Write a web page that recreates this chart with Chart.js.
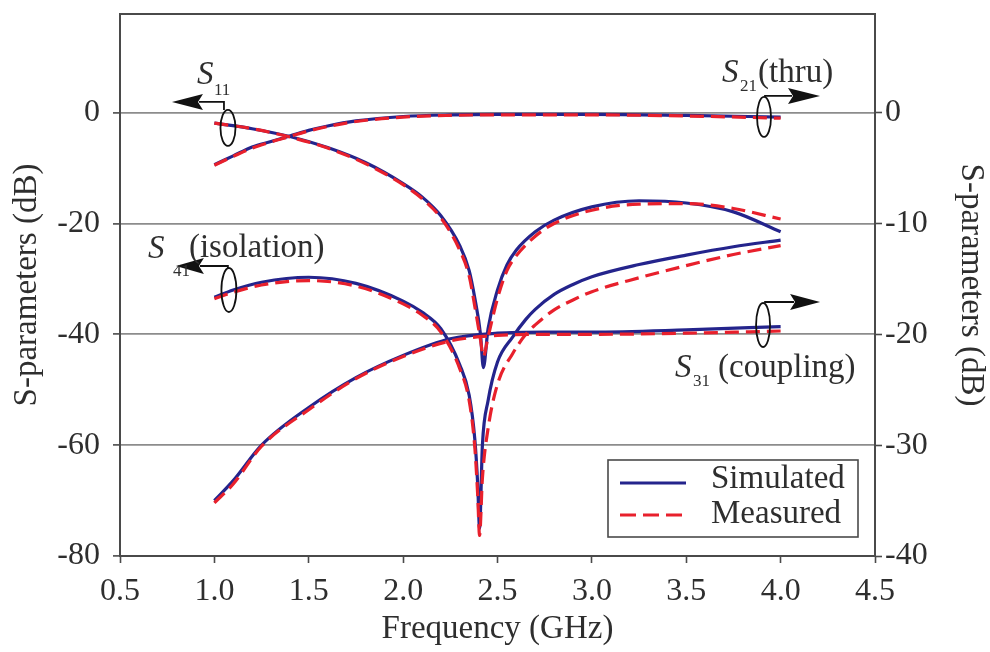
<!DOCTYPE html>
<html>
<head>
<meta charset="utf-8">
<script src="https://cdn.jsdelivr.net/npm/chart.js@4/dist/chart.umd.min.js"></script>
<style>
  html, body { margin: 0; padding: 0; background: #ffffff; }
  #wrap { width: 990px; height: 652px; }
</style>
</head>
<body>
<div id="wrap"><canvas id="c" width="990" height="652"></canvas></div>
<script>
// ---- Axis ticks ----
const xTicks = [0.5, 1.0, 1.5, 2.0, 2.5, 3.0, 3.5, 4.0, 4.5];
const xTickLabels = ['0.5', '1.0', '1.5', '2.0', '2.5', '3.0', '3.5', '4.0', '4.5'];
const leftTicks = [0, -20, -40, -60, -80];
const rightTicks = [0, -10, -20, -30, -40];

// ---- S11 (left axis, dB) ----
const fS11 = [1.0, 1.2, 1.4, 1.6, 1.8, 2.0, 2.1, 2.2, 2.3, 2.35, 2.38, 2.41, 2.425, 2.45, 2.5, 2.55, 2.6, 2.7, 2.8, 3.0, 3.25, 3.5, 3.75, 4.0];
const s11Sim  = [-1.9, -2.9, -4.3, -6.3, -9.0, -12.8, -15.2, -18.6, -24.0, -28.5, -33.5, -40.0, -46.0, -39.0, -32.0, -27.5, -24.8, -21.5, -19.4, -17.0, -15.9, -16.3, -17.9, -21.5];
const s11Meas = [-1.9, -2.9, -4.4, -6.4, -9.2, -13.0, -15.5, -19.0, -24.8, -29.5, -35.0, -41.0, -44.0, -40.5, -33.5, -28.5, -25.8, -22.3, -20.0, -17.6, -16.5, -16.4, -17.3, -19.2];

// ---- S41 isolation (left axis, dB) ----
const fS41 = [1.0, 1.1, 1.25, 1.5, 1.75, 2.0, 2.1, 2.2, 2.3, 2.35, 2.38, 2.395, 2.405, 2.42, 2.45, 2.5, 2.58, 2.65, 2.7, 2.8, 2.9, 3.0, 3.25, 3.5, 3.75, 4.0];
const s41Sim  = [-33.3, -32.0, -30.6, -29.7, -30.8, -34.0, -36.0, -39.0, -45.5, -51.0, -59.0, -67.0, -75.0, -60.0, -52.0, -45.0, -40.5, -37.3, -35.5, -32.8, -31.0, -29.6, -27.4, -25.7, -24.2, -23.0];
const s41Meas = [-33.6, -32.4, -31.1, -30.3, -31.3, -34.5, -36.5, -39.6, -46.2, -52.0, -60.5, -69.0, -76.3, -66.0, -57.0, -49.0, -43.5, -40.0, -38.3, -35.6, -33.8, -32.3, -29.8, -27.6, -25.6, -24.0];

// ---- S21 thru (right axis, dB) ----
const fS21 = [1.0, 1.1, 1.2, 1.3, 1.4, 1.5, 1.6, 1.75, 2.0, 2.25, 2.5, 3.0, 3.5, 4.0];
const s21Sim  = [-4.7, -3.9, -3.1, -2.6, -2.1, -1.6, -1.2, -0.75, -0.35, -0.2, -0.15, -0.15, -0.25, -0.4];
const s21Meas = [-4.75, -3.95, -3.2, -2.65, -2.15, -1.65, -1.25, -0.8, -0.4, -0.25, -0.2, -0.2, -0.3, -0.5];

// ---- S31 coupling (right axis, dB) ----
const fS31 = [1.0, 1.1, 1.25, 1.5, 1.75, 2.0, 2.25, 2.5, 2.75, 3.0, 3.5, 4.0];
const s31Sim  = [-35.0, -33.2, -30.0, -26.6, -23.9, -21.9, -20.4, -19.9, -19.8, -19.8, -19.6, -19.3];
const s31Meas = [-35.2, -33.5, -30.1, -26.8, -24.0, -22.0, -20.6, -20.1, -20.0, -20.0, -19.9, -19.7];

// ---- Styling ----
const SERIF = '"Liberation Serif", "Times New Roman", serif';
const SIM_COLOR = 'rgb(36,36,140)';
const MEAS_COLOR = 'rgb(232,32,44)';
const FRAME = '#4a4a4a';
const TEXT = '#2e2e2e';
const DASH = [14, 7];

function pts(xs, ys) { return xs.map((x, i) => ({ x: x, y: ys[i] })); }

function simSet(label, xs, ys, axis) {
  return { label, data: pts(xs, ys), yAxisID: axis, borderColor: SIM_COLOR,
           borderWidth: 3.2, order: 1 };
}
function measSet(label, xs, ys, axis) {
  return { label, data: pts(xs, ys), yAxisID: axis, borderColor: MEAS_COLOR,
           borderWidth: 3.2, borderDash: DASH, order: 0 };
}

// Loop-and-arrow markers that tie each curve family to its axis
function drawLoop(ctx, cx, cy, o) {
  ctx.lineWidth = 1.8;
  ctx.strokeStyle = '#111';
  ctx.fillStyle = '#111';
  ctx.beginPath();
  ctx.ellipse(cx, cy, o.rx, o.ry, 0, 0, Math.PI * 2);
  ctx.stroke();
  const sx = cx + o.stemDx, topY = cy - o.ry, shaftY = topY - o.rise;
  const baseX = sx + o.dir * o.shaft, tipX = baseX + o.dir * o.head;
  ctx.beginPath();
  ctx.moveTo(sx, topY); ctx.lineTo(sx, shaftY); ctx.lineTo(baseX + o.dir * 4, shaftY);
  ctx.stroke();
  ctx.beginPath();
  ctx.moveTo(tipX, shaftY);
  ctx.lineTo(baseX, shaftY - o.half);
  ctx.lineTo(baseX + o.dir * 5, shaftY);
  ctx.lineTo(baseX, shaftY + o.half);
  ctx.closePath();
  ctx.fill();
}

function drawLabel(ctx, x, y, sx, sy, sub, rest, rx) {
  ctx.fillStyle = TEXT;
  ctx.textBaseline = 'alphabetic';
  ctx.textAlign = 'left';
  ctx.font = 'italic 33px ' + SERIF;
  ctx.fillText('S', x + sx, y + sy);
  ctx.font = '17px ' + SERIF;
  ctx.fillText(sub.t, x + sub.dx, y + sub.dy);
  if (rest) {
    ctx.font = '33px ' + SERIF;
    ctx.fillText(rest, x + rx.dx, y + rx.dy);
  }
}

const decorPlugin = {
  id: 'decor',
  afterDatasetsDraw(chart) {
    const { ctx, chartArea: a, scales } = chart;
    const X = v => scales.x.getPixelForValue(v);
    const YL = v => scales.y.getPixelForValue(v);
    const YR = v => scales.y2.getPixelForValue(v);
    ctx.save();

    // top edge of the plot frame
    ctx.strokeStyle = FRAME;
    ctx.lineWidth = 2;
    ctx.beginPath();
    ctx.moveTo(a.left - 1, a.top);
    ctx.lineTo(a.right + 1, a.top);
    ctx.stroke();

    // S11 -> left axis
    let ax = X(1.072), ay = YL(-2.76);
    drawLoop(ctx, ax, ay, { rx: 7.5, ry: 18, stemDx: -4, rise: 8, dir: -1, shaft: 21, head: 31, half: 8 });
    drawLabel(ctx, ax, ay, -31, -44, { t: '11', dx: -14, dy: -33 });

    // S21 (thru) -> right axis
    ax = X(3.912); ay = YR(-0.39);
    drawLoop(ctx, ax, ay, { rx: 7, ry: 20, stemDx: 1, rise: 1, dir: 1, shaft: 23, head: 32, half: 8 });
    drawLabel(ctx, ax, ay, -42, -35, { t: '21', dx: -24, dy: -26 }, '(thru)', { dx: -6, dy: -35 });

    // S41 (isolation) -> left axis
    ax = X(1.077); ay = YL(-32.0);
    drawLoop(ctx, ax, ay, { rx: 7.5, ry: 22, stemDx: -1, rise: 2, dir: -1, shaft: 24, head: 28, half: 8 });
    drawLabel(ctx, ax, ay, -81, -32, { t: '41', dx: -56, dy: -14 }, '(isolation)', { dx: -40, dy: -33 });

    // S31 (coupling) -> right axis
    ax = X(3.907); ay = YR(-19.16);
    drawLoop(ctx, ax, ay, { rx: 7, ry: 22, stemDx: 2, rise: 1, dir: 1, shaft: 25, head: 30, half: 8 });
    drawLabel(ctx, ax, ay, -88, 52, { t: '31', dx: -70, dy: 61 }, '(coupling)', { dx: -45, dy: 52 });

    // legend box
    const L = a.right - 267, R = a.right - 17, T = a.bottom - 96, B = a.bottom - 19;
    ctx.fillStyle = '#ffffff';
    ctx.fillRect(L, T, R - L, B - T);
    ctx.strokeStyle = FRAME;
    ctx.lineWidth = 1.6;
    ctx.setLineDash([]);
    ctx.strokeRect(L, T, R - L, B - T);
    ctx.lineWidth = 3.2;
    ctx.strokeStyle = SIM_COLOR;
    ctx.beginPath(); ctx.moveTo(L + 12, T + 23); ctx.lineTo(L + 78, T + 23); ctx.stroke();
    ctx.strokeStyle = MEAS_COLOR;
    ctx.setLineDash([16, 7]);
    ctx.beginPath(); ctx.moveTo(L + 12, T + 55); ctx.lineTo(L + 78, T + 55); ctx.stroke();
    ctx.setLineDash([]);
    ctx.fillStyle = TEXT;
    ctx.font = '33px ' + SERIF;
    ctx.textAlign = 'left';
    ctx.textBaseline = 'alphabetic';
    ctx.fillText('Simulated', L + 103, T + 28);
    ctx.fillText('Measured', L + 103, T + 63);

    ctx.restore();
  }
};

function fixedTicks(values) {
  return function (scale) { scale.ticks = values.map(v => ({ value: v })); };
}

new Chart(document.getElementById('c'), {
  type: 'line',
  data: {
    datasets: [
      measSet('S11 measured', fS11, s11Meas, 'y'),
      measSet('S41 measured', fS41, s41Meas, 'y'),
      measSet('S21 measured', fS21, s21Meas, 'y2'),
      measSet('S31 measured', fS31, s31Meas, 'y2'),
      simSet('S11 simulated', fS11, s11Sim, 'y'),
      simSet('S41 simulated', fS41, s41Sim, 'y'),
      simSet('S21 simulated', fS21, s21Sim, 'y2'),
      simSet('S31 simulated', fS31, s31Sim, 'y2')
    ]
  },
  options: {
    responsive: false,
    animation: false,
    events: [],
    layout: { padding: { top: 14, left: 0, right: 0, bottom: 0 } },
    elements: {
      point: { radius: 0 },
      line: { cubicInterpolationMode: 'monotone', borderCapStyle: 'butt', fill: false }
    },
    plugins: { legend: { display: false }, tooltip: { enabled: false } },
    scales: {
      x: {
        type: 'linear', position: 'bottom', min: 0.5, max: 4.5,
        afterBuildTicks: fixedTicks(xTicks),
        afterFit(s) { s.height = 96; s.paddingLeft = 0; s.paddingRight = 0; },
        grid: { drawOnChartArea: false, drawTicks: true, tickLength: 7, tickColor: FRAME, tickWidth: 1.6 },
        border: { display: true, color: FRAME, width: 2 },
        ticks: {
          autoSkip: false, maxRotation: 0, padding: 9, color: TEXT,
          font: { family: SERIF, size: 32 },
          callback: (v) => xTickLabels[xTicks.indexOf(v)]
        },
        title: { display: true, text: 'Frequency (GHz)', color: TEXT,
                 font: { family: SERIF, size: 33, lineHeight: 1.2 }, padding: { top: 0, bottom: 3 } }
      },
      y: {
        type: 'linear', position: 'left', min: -80, max: 17.8,
        afterBuildTicks: fixedTicks(leftTicks),
        afterFit(s) { s.width = 120; s.paddingTop = 0; s.paddingBottom = 0; },
        grid: { drawOnChartArea: true, color: (c) => (c.tick && c.tick.value === -80 ? 'rgba(0,0,0,0)' : '#8c8c8c'),
                lineWidth: 1.8, drawTicks: true, tickLength: 7, tickColor: FRAME, tickWidth: 1.6 },
        border: { display: true, color: FRAME, width: 2 },
        ticks: { padding: 13, color: TEXT, font: { family: SERIF, size: 32 },
                 callback: (v) => String(v) },
        title: { display: true, text: 'S-parameters (dB)', color: TEXT,
                 font: { family: SERIF, size: 33, lineHeight: 1.2 }, padding: { top: 8, bottom: 0 } }
      },
      y2: {
        type: 'linear', position: 'right', min: -40, max: 8.9,
        afterBuildTicks: fixedTicks(rightTicks),
        afterFit(s) { s.width = 115; s.paddingTop = 0; s.paddingBottom = 0; },
        grid: { drawOnChartArea: false, drawTicks: true, tickLength: 7, tickColor: FRAME, tickWidth: 1.6 },
        border: { display: true, color: FRAME, width: 2 },
        ticks: { padding: 3, color: TEXT, font: { family: SERIF, size: 32 },
                 callback: (v) => String(v) },
        title: { display: true, text: 'S-parameters (dB)', color: TEXT,
                 font: { family: SERIF, size: 33, lineHeight: 1.2 }, padding: { top: 0, bottom: 0 } }
      }
    }
  },
  plugins: [decorPlugin]
});
</script>
</body>
</html>
